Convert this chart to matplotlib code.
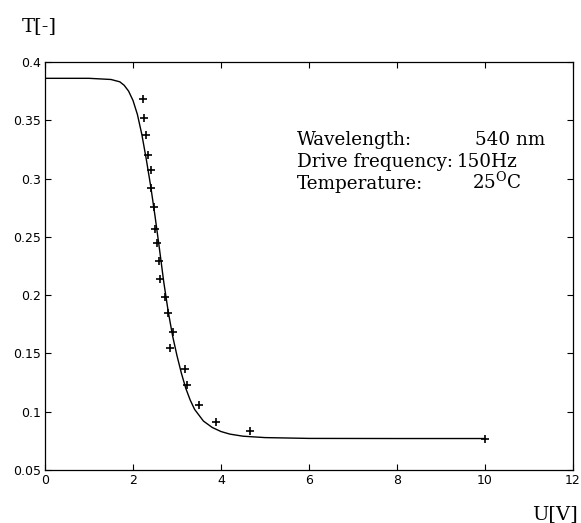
import matplotlib
matplotlib.use("Agg")
import matplotlib.pyplot as plt

# Measured data points (markers)
meas_u = [2.22, 2.26, 2.29, 2.34, 2.42, 2.42, 2.47, 2.51, 2.54, 2.58, 2.62,
          2.72, 2.79, 2.90, 2.85, 3.18, 3.23, 3.49, 3.89, 4.65, 10.0]
meas_t = [0.368, 0.352, 0.337, 0.320, 0.307, 0.292, 0.276, 0.257, 0.245, 0.229, 0.214,
          0.198, 0.185, 0.168, 0.155, 0.137, 0.123, 0.106, 0.0915, 0.0835, 0.077]

# Fitted / simulated curve
curve_u = [0.0, 1.0, 1.5, 1.7, 1.8, 1.9, 2.0, 2.1, 2.2, 2.3, 2.4, 2.5, 2.6, 2.7,
           2.8, 2.9, 3.0, 3.1, 3.2, 3.3, 3.4, 3.6, 3.8, 4.0, 4.2, 4.5, 5.0, 6.0, 8.0, 10.0]
curve_t = [0.386, 0.386, 0.385, 0.383, 0.380, 0.375, 0.367, 0.355, 0.338, 0.317, 0.294,
           0.268, 0.240, 0.211, 0.186, 0.165, 0.148, 0.133, 0.120, 0.110, 0.102, 0.092,
           0.0865, 0.0830, 0.0808, 0.0790, 0.0778, 0.0771, 0.0770, 0.0770]

xticks = [0, 2, 4, 6, 8, 10, 12]
yticks = [0.05, 0.1, 0.15, 0.2, 0.25, 0.3, 0.35, 0.4]
ytick_labels = ["0.05", "0.1", "0.15", "0.2", "0.25", "0.3", "0.35", "0.4"]

info_labels = ["Wavelength:", "Drive frequency:", "Temperature:"]
info_values = ["540 nm", "150Hz", "25$^{\\mathrm{O}}$C"]

W, H = 581, 523
fig = plt.figure(figsize=(W / 100, H / 100), dpi=100)
plt.rcParams['mathtext.fontset'] = 'dejavuserif'

ax = fig.add_axes([45 / W, 1 - 470 / H, (573 - 45) / W, (470 - 62) / H])
ax.plot(curve_u, curve_t, color='black', lw=1.0)
ax.plot(meas_u, meas_t, linestyle='none', marker='+', color='black',
        markersize=6, markeredgewidth=1.2)

ax.set_xlim(0, 12)
ax.set_ylim(0.05, 0.4)
ax.set_xticks(xticks)
ax.set_xticklabels([str(v) for v in xticks])
ax.set_yticks(yticks)
ax.set_yticklabels(ytick_labels)
ax.tick_params(direction='in', length=4, width=0.8, top=True, right=True,
               labelsize=9, pad=3)
for sp in ax.spines.values():
    sp.set_linewidth(0.9)

def fx(px):
    return px / W

def fy(py):
    return 1 - py / H

fig.text(fx(22), fy(31), "T[-]", family="DejaVu Serif", fontsize=14, va='baseline')
fig.text(fx(578), fy(519), "U[V]", family="DejaVu Serif", fontsize=14,
         va='baseline', ha='right')

label_x = [297, 297, 297]
value_x = [475, 457, 472]
base_y = [145, 167, 189]
for lab, val, lx, vx, by in zip(info_labels, info_values, label_x, value_x, base_y):
    fig.text(fx(lx), fy(by), lab, family="DejaVu Serif", fontsize=13.2, va='baseline')
    fig.text(fx(vx), fy(by), val, family="DejaVu Serif", fontsize=13.2, va='baseline')

fig.savefig("out.png", dpi=100)
